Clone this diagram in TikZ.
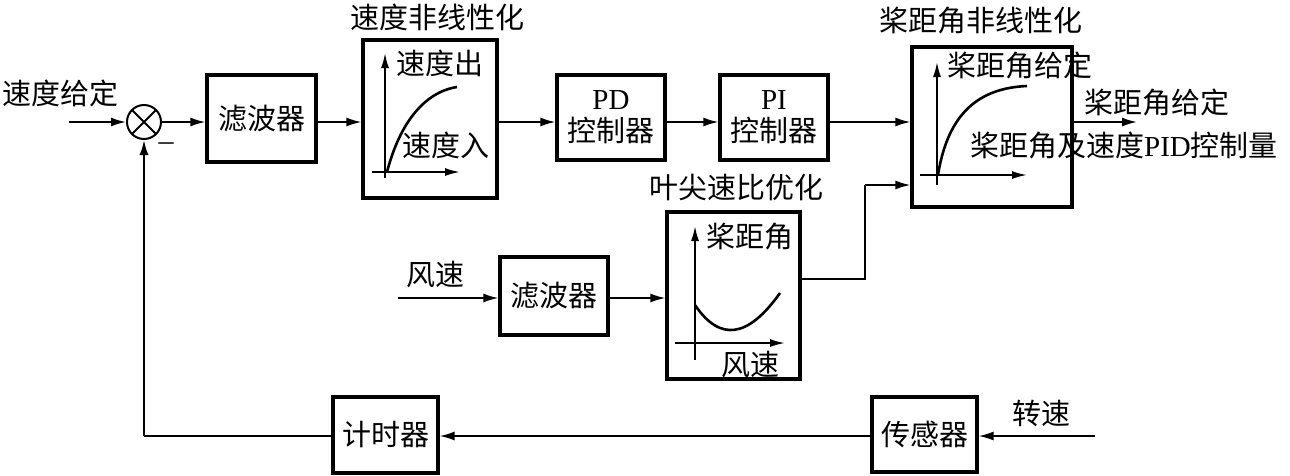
\documentclass[tikz,border=0pt]{standalone}
\usepackage{fontspec}
\setmainfont{Liberation Serif}
\newfontfamily\cjk{Noto Sans CJK SC}
\usetikzlibrary{arrows.meta,calc}
\begin{document}
\begin{tikzpicture}[x=1pt,y=-1pt,
  font=\fontsize{29}{32}\selectfont\cjk,
  blk/.style={draw,line width=3.2pt,inner sep=0pt,align=center},
  conn/.style={line width=1.8pt},
  arr/.style={conn,-{Latex[length=15pt,width=9pt]}},
  axis/.style={line width=1.8pt,-{Latex[length=15pt,width=8pt]}},
  crv/.style={line width=2.6pt},
  lbl/.style={inner sep=0pt}]
\useasboundingbox (0,0) rectangle (1290,475);
% blocks
\node[draw,circle,line width=2pt,minimum size=34pt,inner sep=0pt,
  path picture={\draw[line width=2pt] (path picture bounding box.north west)--(path picture bounding box.south east)
  (path picture bounding box.north east)--(path picture bounding box.south west);}] (sum) at (144,122) {};
\node[blk,minimum width=109pt,minimum height=87pt] (f1) at (261.5,118.5) {滤波器};
\node[blk,minimum width=134pt,minimum height=158pt] (sn) at (430,119) {};
\node[blk,minimum width=108pt,minimum height=85pt] (pd) at (611,117.5) {{\rmfamily PD}\\控制器};
\node[blk,minimum width=108pt,minimum height=85pt] (pi) at (774,117.5) {{\rmfamily PI}\\控制器};
\node[blk,minimum width=160pt,minimum height=160pt] (pn) at (992,127) {};
\node[blk,minimum width=133pt,minimum height=167pt] (tb) at (733.5,295.5) {};
\node[blk,minimum width=108pt,minimum height=78pt] (f2) at (554,296) {滤波器};
\node[blk,minimum width=105pt,minimum height=76pt] (tm) at (385.5,435) {计时器};
\node[blk,minimum width=105pt,minimum height=75pt] (se) at (924.5,434.5) {传感器};
% free ends
\coordinate (in0) at (69,122);
\coordinate (win) at (398,298);
\coordinate (rin) at (1095,436);
\coordinate (pout) at (1137,122);
\coordinate (jx) at (865,279);
\coordinate (jy) at (865,185);
\coordinate (fbc) at (144,436);
% connectors main row
\draw[arr] (in0) -- (sum.west);
\draw[arr] (sum.east) -- (sum.east -| f1.west);
\draw[arr] (f1.east |- sum) -- (sn.west |- sum);
\draw[arr] (sn.east |- sum) -- (pd.west |- sum);
\draw[arr] (pd.east |- sum) -- (pi.west |- sum);
\draw[arr] (pi.east |- sum) -- (pn.west |- sum);
\draw[arr] (pn.east |- pout) -- (pout);
% wind row
\draw[arr] (win) -- (f2.west |- win);
\draw[arr] (f2.east |- win) -- (tb.west |- win);
\draw[conn] (tb.east |- jx) -- (jx) -- (jy);
\draw[arr] (jy) -- (pn.west |- jy);
% feedback row
\draw[arr] (rin) -- (se.east |- rin);
\draw[arr] (se.west |- rin) -- (tm.east |- rin);
\draw[conn] (tm.west |- rin) -- (fbc);
\draw[arr] (fbc) -- (sum.south);
% graphs
\draw[axis] (385,178) -- (385,53);
\draw[axis] (372,172) -- (460,172);
\draw[crv] (387,172) .. controls (400,122) and (425,92) .. (457,87);
\draw[axis] (937,185) -- (937,62);
\draw[axis] (920,175) -- (1027,175);
\draw[crv] (938,175) .. controls (948,112) and (980,88) .. (1027,86);
\draw[axis] (695,360) -- (695,226);
\draw[axis] (675,343) -- (785,343);
\draw[crv] (695,305) .. controls (720,342) and (748,338) .. (780,293);
% labels
\node[lbl] (l1) at (60,93) {速度给定};
\node[lbl,font=\fontsize{30}{32}\selectfont\rmfamily] (lm) at (166,147) {–};
\node[lbl] (l2) at (437,17) {速度非线性化};
\node[lbl] (l3) at (440,63) {速度出};
\node[lbl] (l4) at (446,145) {速度入};
\node[lbl] (l5) at (736,187) {叶尖速比优化};
\node[lbl] (l6) at (981,21) {桨距角非线性化};
\node[lbl] (l7) at (1020,65) {桨距角给定};
\node[lbl] (l8) at (1157,102) {桨距角给定};
\node[lbl] (l9) at (1124,146) {桨距角及速度{\rmfamily PID}控制量};
\node[lbl] (l10) at (750,237) {桨距角};
\node[lbl] (l11) at (750,364) {风速};
\node[lbl] (l12) at (435,275) {风速};
\node[lbl] (l13) at (1041,413) {转速};
\end{tikzpicture}
\end{document}
